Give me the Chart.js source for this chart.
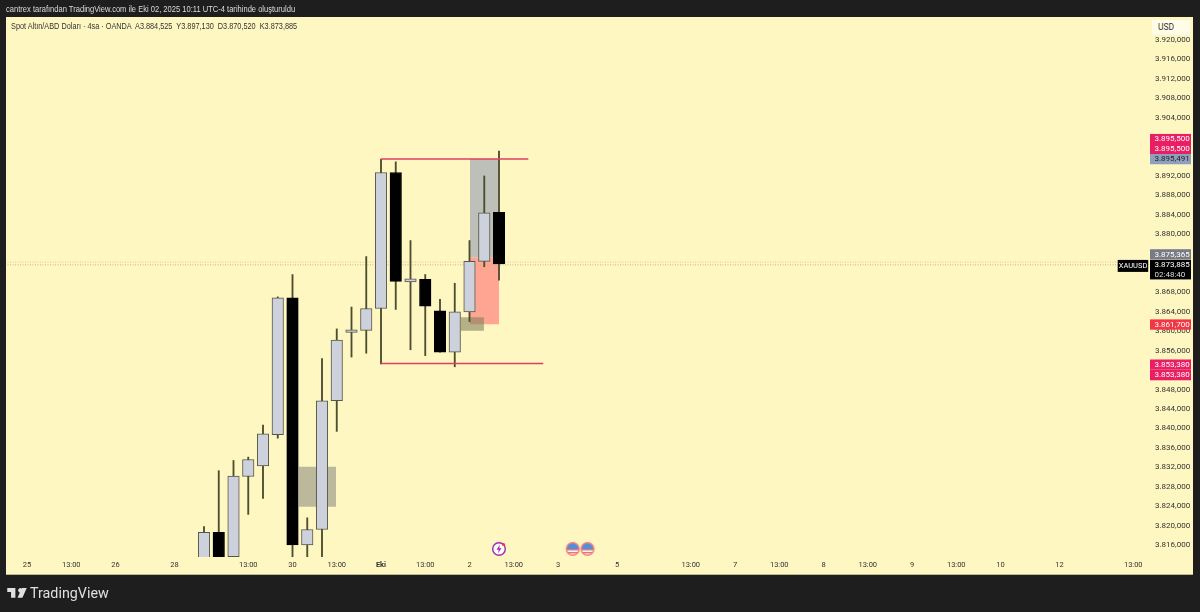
<!DOCTYPE html>
<html lang="tr">
<head>
<meta charset="utf-8">
<title>XAUUSD</title>
<script src="https://cdn.jsdelivr.net/npm/chart.js@4/dist/chart.umd.min.js"></script>
<style>
  html, body { margin: 0; padding: 0; width: 1200px; height: 612px; overflow: hidden; background: #1e1e1e; }
  #pane { position: absolute; left: 6px; top: 17px; width: 1187px; height: 557px; background: #fff7c2; border-bottom: 1px solid #b9b58e; }
  #grafico { position: absolute; left: 0; top: 0; }
  #baslik { position: absolute; left: 6px; top: 3px; font: 9.7px "Liberation Sans", sans-serif; color: #dcdcdc; white-space: nowrap; transform: scaleX(.78); transform-origin: left top; }
  #sembol { position: absolute; left: 11px; top: 20px; font: 9.5px "Liberation Sans", sans-serif; color: #333; white-space: pre; transform: scaleX(.77); transform-origin: left top; }
  #usd { position: absolute; left: 1152px; top: 20px; width: 32px; height: 15px; padding-left: 6px; background: #fffde8; font: 8.5px/15px Roboto, sans-serif; color: #333; }
  #logo { position: absolute; left: 7px; top: 587px; width: 20px; height: 13px; }
  #marka { position: absolute; left: 30px; top: 585px; font: 400 14.3px Roboto, sans-serif; color: #e0e0e0; }
</style>
</head>
<body>
<div id="pane"></div>
<canvas id="grafico" width="1200" height="612"></canvas>
<div id="baslik">cantrex tarafından TradingView.com ile Eki 02, 2025 10:11 UTC-4 tarihinde oluşturuldu</div>
<div id="sembol">Spot Altın/ABD Doları · 4sa · OANDA  A3.884,525  Y3.897,130  D3.870,520  K3.873,885</div>
<div id="usd">USD</div>
<svg id="logo" viewBox="0 0 36 24"><path fill="#e0e0e0" d="M0 2h15v18H7V9H0zM20 6a4 4 0 1 1 0 .01zM27 2h9l-8 18h-9z"/></svg>
<div id="marka">TradingView</div>

<script>
// --- candles (4h bars, slot = bar position on the time axis) ---
const candleSlots = [12, 13, 14, 15, 16, 17, 18, 19, 20, 21, 22, 23, 24, 25, 26, 27, 28, 29, 30, 31, 32];
const opens  = [3812, 3818.6, 3813.6, 3830.1, 3832.3, 3838.7, 3866.9, 3816, 3819.2, 3845.7, 3859.8, 3860.2, 3864.7, 3892.7, 3870.2, 3870.7, 3864.2, 3855.7, 3864, 3874.4, 3884.525];
const highs  = [3819.8, 3831.3, 3833.4, 3834.1, 3840.7, 3867.1, 3871.7, 3821.6, 3854.4, 3860.5, 3865, 3875.4, 3895.4, 3894.9, 3878.7, 3871.7, 3866.6, 3869.9, 3878.7, 3892, 3897.13];
const lows   = [3811, 3811, 3813, 3822.3, 3825.6, 3838, 3811, 3811, 3811, 3839.4, 3854.7, 3855.5, 3853.3, 3864.5, 3856.2, 3855, 3855.7, 3852.7, 3862, 3873.3, 3870.52];
const closes = [3818.6, 3812, 3830.2, 3833.6, 3838.9, 3866.9, 3816, 3819.2, 3845.7, 3858.2, 3860.3, 3864.7, 3892.7, 3870.3, 3870.8, 3865.2, 3855.7, 3864, 3874.4, 3884.4, 3873.885];

// --- axis ticks ---
const priceTicks = [3920, 3916, 3912, 3908, 3904, 3892, 3888, 3884, 3880, 3868, 3864, 3860, 3856, 3848, 3844, 3840, 3836, 3832, 3828, 3824, 3820, 3816];
const timeSlots  = [0, 3, 6, 10, 15, 18, 21, 24, 27, 30, 33, 36, 40, 45, 48, 51, 54, 57, 60, 63, 66, 70, 75];
const timeLabels = ["25", "13:00", "26", "28", "13:00", "30", "13:00", "Eki", "13:00", "2", "13:00", "3", "5", "13:00", "7", "13:00", "8", "13:00", "9", "13:00", "10", "12", "13:00"];

// --- shaded boxes ---
const boxLeft   = [18.42, 30.03, 30.03, 29.4];
const boxRight  = [20.95, 32, 32, 30.98];
const boxTop    = [3832.1, 3895.5, 3875.2, 3862.9];
const boxBottom = [3823.9, 3875.2, 3861.45, 3860.1];
const boxColors = ["#bcb89c", "#bcc0b8", "#ffa592", "rgba(130,130,95,0.6)"];

// --- red range lines ---
const rangePrices = [3895.5, 3853.38];
const rangeStart  = [23.98, 23.98];
const rangeEnd    = [33.99, 35];

// --- last price lines ---
const dottedPrices = [3874.25, 3873.7];
const dottedColors = ["#f0bf80", "#c4b68c"];

// --- price tags on the right axis ---
const tagPrices = [3895.5, 3895.5, 3895.491, 3875.365, 3873.885, 3861.7, 3853.38, 3853.38];
const tagFills  = ["#e91e63", "#e91e63", "#8fa0bd", "#787b86", "#000000", "#f23645", "#e91e63", "#e91e63"];
const tagInks   = ["#ffffff", "#ffffff", "#222222", "#ffffff", "#ffffff", "#ffffff", "#ffffff", "#ffffff"];
const countdown = "02:48:40";
const symbolTag = "XAUUSD";

// --- event icons under the candles ---
const eventSlots = [32, 37, 38];
const eventKinds = ["flash", "flag", "flag"];
const eventPrice = 3815.2;

const fmtPrice = v => {
    const [a, b] = v.toFixed(3).split(".");
    return a[0] + "." + a.slice(1) + "," + b;
};

const fonte = 'Roboto, sans-serif';
const tagNudge = [-20, -10, 0, -2.5, 1, 1.3, 1, 11.5]; // tags push each other apart on the axis

// icons as small canvases, used as point styles
function iconCanvas(kind) {
    const c = document.createElement("canvas");
    c.width = 16; c.height = 16;
    const g = c.getContext("2d");
    g.beginPath(); g.arc(8, 8, 6.3, 0, Math.PI * 2);
    if (kind === "flash") {
        g.fillStyle = "#fff"; g.fill();
        g.lineWidth = 1.4; g.strokeStyle = "#9c27b0"; g.stroke();
        g.fillStyle = "#9c27b0";
        g.beginPath(); g.moveTo(9, 3.8); g.lineTo(5.5, 8.8); g.lineTo(7.8, 8.8); g.lineTo(7, 12.2); g.lineTo(10.5, 7.2); g.lineTo(8.2, 7.2); g.closePath(); g.fill();
        g.fillStyle = "#f23645";
        g.beginPath(); g.arc(12.5, 3.5, 1.6, 0, Math.PI * 2); g.fill();
    } else {
        g.save(); g.clip();
        g.fillStyle = "#fff"; g.fillRect(0, 0, 16, 16);
        g.fillStyle = "#e57373";
        for (let y = 2; y < 15; y += 3) g.fillRect(0, y, 16, 1.5);
        g.fillStyle = "#4f8fdc"; g.fillRect(0, 0, 16, 8);
        g.restore();
        g.beginPath(); g.arc(8, 8, 6.3, 0, Math.PI * 2);
        g.lineWidth = 1.4; g.strokeStyle = "#ef7f7f"; g.stroke();
    }
    return c;
}

const isUp = i => closes[i] >= opens[i];

const datasets = [];

boxLeft.forEach((x0, i) => {
    datasets.push({
        type: "line", order: 10 - i,
        data: [{ x: x0, y: boxTop[i] }, { x: boxRight[i], y: boxTop[i] }],
        fill: { value: boxBottom[i] },
        backgroundColor: boxColors[i],
        borderWidth: 0, pointRadius: 0
    });
});

dottedPrices.forEach((p, i) => {
    datasets.push({
        type: "line", order: 5,
        data: [{ x: -2, y: p }, { x: 77, y: p }],
        borderColor: dottedColors[i], borderWidth: 1, borderDash: [1, 1.5], pointRadius: 0
    });
});

// wicks
datasets.push({
    type: "bar", order: 4, grouped: false, barThickness: 1.2,
    data: candleSlots.map((s, i) => ({ x: s, y: [lows[i], highs[i]] })),
    backgroundColor: "#4d4d30", borderWidth: 0
});

// bodies
datasets.push({
    type: "bar", order: 3, grouped: false, barThickness: 11.5,
    data: candleSlots.map((s, i) => ({ x: s, y: [opens[i], closes[i]] })),
    backgroundColor: c => isUp(c.dataIndex) ? "#cdd1dc" : "#000000",
    borderColor: c => isUp(c.dataIndex) ? "#55554a" : "#000000",
    borderWidth: 1, borderSkipped: false
});

rangePrices.forEach((p, i) => {
    datasets.push({
        type: "line", order: 2,
        data: [{ x: rangeStart[i], y: p }, { x: rangeEnd[i], y: p }],
        borderColor: "#df3f5c", borderWidth: 1.4, pointRadius: 0
    });
});

datasets.push({
    type: "line", order: 1, showLine: false,
    data: eventSlots.map(s => ({ x: s, y: eventPrice })),
    pointStyle: eventKinds.map(iconCanvas),
    pointRadius: 8
});

// price tags drawn over the axis, placed through the y scale
const tagsPlugin = {
    id: "tags",
    afterDraw(chart) {
        const g = chart.ctx, yScale = chart.scales.y;
        g.save();
        g.textBaseline = "middle";
        tagPrices.forEach((p, i) => {
            const y = yScale.getPixelForValue(p) + tagNudge[i];
            g.font = "8px " + fonte;
            g.fillStyle = tagFills[i];
            g.fillRect(1150, y - 5, 41, 10.3);
            g.fillStyle = tagInks[i];
            g.textAlign = "left";
            g.fillText(fmtPrice(p), 1154.5, y + 0.5);
            if (tagFills[i] === "#000000") {
                g.fillStyle = "#000000";
                g.fillRect(1150, y + 5, 41, 9.5);
                g.fillRect(1117.7, y - 5, 30.5, 12);
                g.fillStyle = "#dddddd";
                g.fillText(countdown, 1154.5, y + 10);
                g.fillStyle = "#ffffff";
                g.textAlign = "center";
                g.font = "7.5px " + fonte;
                g.fillText(symbolTag, 1133, y + 1);
            }
        });
        g.restore();
    }
};

new Chart(document.getElementById("grafico"), {
    type: "bar",
    data: { datasets },
    plugins: [tagsPlugin],
    options: {
        responsive: false,
        animation: false,
        layout: { autoPadding: false, padding: { left: 6, top: 17, right: 7, bottom: 38 } },
        plugins: { legend: { display: false }, tooltip: { enabled: false } },
        scales: {
            x: {
                type: "linear", offset: false,
                min: (6 - 27) / 14.75, max: (1150 - 27) / 14.75,
                grid: { display: false, drawTicks: false }, border: { display: false },
                afterFit: s => { s.height = 17; s.paddingLeft = 0; s.paddingRight = 0; },
                afterBuildTicks: s => { s.ticks = timeSlots.map(v => ({ value: v })); },
                ticks: {
                    autoSkip: false, maxRotation: 0, padding: 4, color: "#333",
                    font: c => ({ family: fonte, size: 7.5, weight: c.tick && timeLabels[timeSlots.indexOf(c.tick.value)] === "Eki" ? "bold" : "normal" }),
                    callback: v => timeLabels[timeSlots.indexOf(v)]
                }
            },
            y: {
                position: "right",
                min: 3816 - 12 / 4.856, max: 3816 + 528 / 4.856,
                grid: { display: false, drawTicks: false }, border: { display: false },
                afterFit: s => { s.width = 43; s.paddingTop = 0; s.paddingBottom = 0; },
                afterBuildTicks: s => { s.ticks = priceTicks.map(v => ({ value: v })); },
                ticks: {
                    padding: 5, color: "#333",
                    font: { family: fonte, size: 8 },
                    callback: v => fmtPrice(v)
                }
            }
        }
    }
});
</script>
</body>
</html>
